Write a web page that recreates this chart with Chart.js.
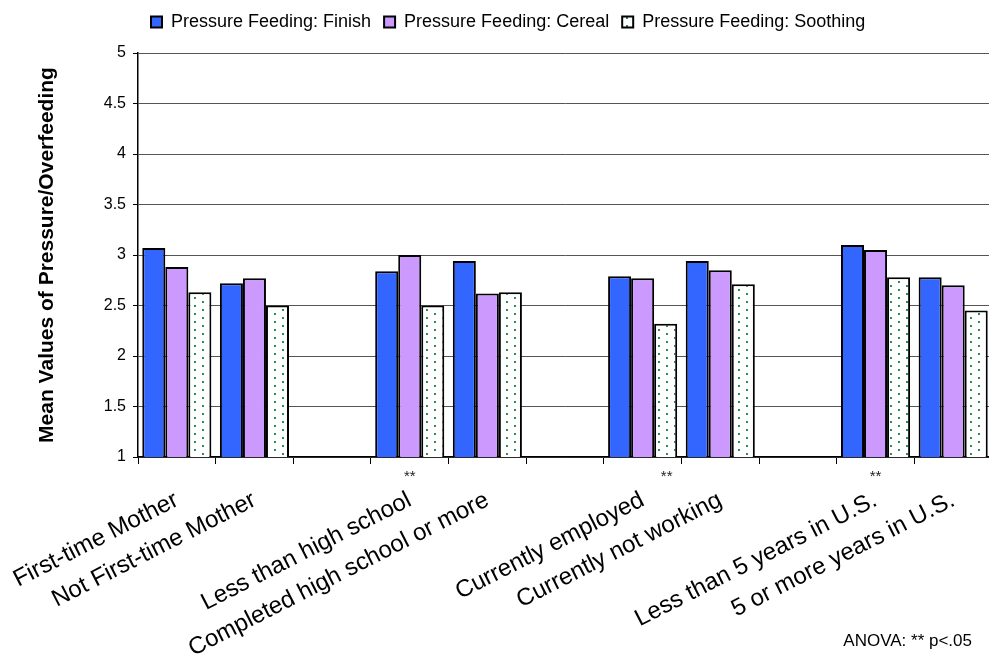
<!DOCTYPE html>
<html>
<head>
<meta charset="utf-8">
<script src="https://cdn.jsdelivr.net/npm/chart.js@4.4.1/dist/chart.umd.min.js"></script>
<style>
  html, body { margin: 0; padding: 0; background: #fff; overflow: hidden; }
  #wrap { position: relative; width: 1000px; height: 660px; }
</style>
</head>
<body>
<div id="wrap"><canvas id="feedChart"></canvas></div>
<script>
// groups, with empty slots between them
const categories = [
  'First-time Mother', 'Not First-time Mother', '',
  'Less than high school', 'Completed high school or more', '',
  'Currently employed', 'Currently not working', '',
  'Less than 5 years in U.S.', '5 or more years in U.S.'
];
const finishValues   = [3.07, 2.72, null, 2.84, 2.94, null, 2.79, 2.94, null, 3.10, 2.78];
const cerealValues   = [2.88, 2.77, null, 3.00, 2.62, null, 2.77, 2.85, null, 3.05, 2.70];
const soothingValues = [2.63, 2.50, null, 2.50, 2.63, null, 2.32, 2.71, null, 2.78, 2.45];
const seriesNames = ['Pressure Feeding: Finish', 'Pressure Feeding: Cereal', 'Pressure Feeding: Soothing'];

// significance marks: category + shift in fraction of a category
const sigMarks = [
  { category: 'Less than high school', shift: 0 },
  { category: 'Currently employed', shift: 0.31 },
  { category: 'Less than 5 years in U.S.', shift: 0 }
];
const noteText = 'ANOVA: ** p<.05';

const FONT = "'Liberation Sans', Arial, sans-serif";

// white fill with staggered green dots
function dotPattern() {
  const c = document.createElement('canvas');
  c.width = 16; c.height = 8;
  const g = c.getContext('2d');
  g.fillStyle = '#fff';
  g.fillRect(0, 0, 16, 8);
  g.fillStyle = '#2e8b57';
  g.fillRect(2, 1, 2, 2);
  g.fillRect(10, 5, 2, 2);
  return g.createPattern(c, 'repeat');
}

// leave some room between the legend and the plot
const legendGap = {
  id: 'legendGap',
  beforeInit(chart) {
    const legend = chart.legend;
    if (!legend || legend._gapped) return;
    const fit = legend.fit;
    legend.fit = function () {
      fit.call(this);
      this.height += 12;
    };
    legend._gapped = true;
  }
};

const notes = {
  id: 'notes',
  afterDraw(chart) {
    const ctx = chart.ctx;
    const x = chart.scales.x;
    const step = x.getPixelForValue(1) - x.getPixelForValue(0);
    ctx.save();
    ctx.fillStyle = '#222';
    ctx.font = '15px ' + FONT;
    ctx.textAlign = 'center';
    ctx.textBaseline = 'top';
    sigMarks.forEach(m => {
      const px = x.getPixelForValue(categories.indexOf(m.category)) + m.shift * step;
      ctx.fillText('**', px, chart.chartArea.bottom + 12);
    });
    ctx.fillStyle = '#000';
    ctx.font = '17px ' + FONT;
    ctx.textAlign = 'right';
    ctx.textBaseline = 'alphabetic';
    ctx.fillText(noteText, 972, 646);
    ctx.restore();
  }
};

new Chart(document.getElementById('feedChart'), {
  type: 'bar',
  data: {
    labels: categories,
    datasets: [
      { label: seriesNames[0], data: finishValues, backgroundColor: '#3366ff' },
      { label: seriesNames[1], data: cerealValues, backgroundColor: '#cc99ff' },
      { label: seriesNames[2], data: soothingValues, backgroundColor: dotPattern() }
    ]
  },
  options: {
    responsive: true,
    maintainAspectRatio: false,
    animation: false,
    layout: { padding: { top: 0, right: 8, bottom: 0, left: 0 } },
    datasets: {
      bar: {
        borderColor: '#000',
        borderWidth: 2,
        categoryPercentage: 0.89,
        barPercentage: 1.0
      }
    },
    plugins: {
      legend: {
        position: 'top',
        align: 'start',
        fullSize: false,
        labels: {
          font: { family: FONT, size: 18 },
          color: '#000',
          boxWidth: 11,
          boxHeight: 11,
          padding: 13
        }
      },
      tooltip: { enabled: false }
    },
    scales: {
      x: {
        offset: true,
        grid: {
          display: true,
          drawOnChartArea: false,
          offset: true,
          color: '#000',
          tickLength: 7
        },
        border: { color: '#000', width: 1.5 },
        ticks: {
          autoSkip: false,
          minRotation: 27,
          maxRotation: 27,
          color: '#000',
          padding: 22,
          font: { family: FONT, size: 24 }
        },
        afterFit(s) {
          // rotated labels may hang past the left edge; keep the plot where it is
          s.height = 203;
          s.paddingLeft = 0;
          s.paddingRight = 0;
        }
      },
      y: {
        min: 1,
        max: 5,
        ticks: {
          stepSize: 0.5,
          color: '#000',
          padding: 7,
          font: { family: FONT, size: 16 },
          callback: v => String(Math.round(v * 10) / 10)
        },
        grid: {
          color: '#555',
          lineWidth: 1,
          tickLength: 5,
          tickColor: '#000'
        },
        border: { color: '#000', width: 1.5 },
        title: {
          display: true,
          text: 'Mean Values of Pressure/Overfeeding',
          color: '#000',
          font: { family: FONT, size: 21, weight: 'bold' },
          padding: { top: 35, bottom: 0 }
        },
        afterFit(s) { s.width = 138; }
      }
    }
  },
  plugins: [legendGap, notes]
});
</script>
</body>
</html>
